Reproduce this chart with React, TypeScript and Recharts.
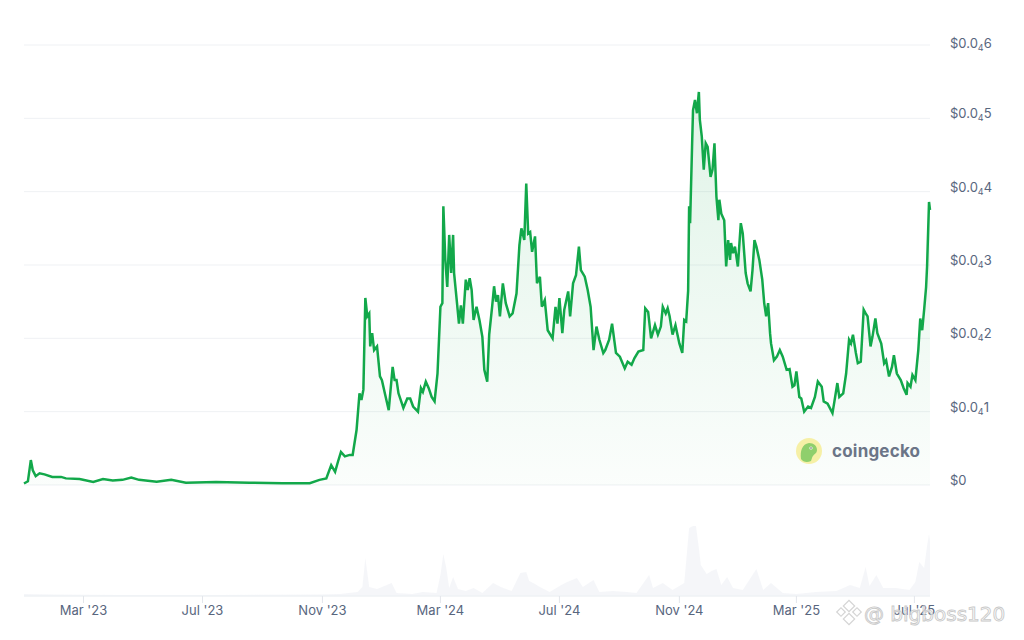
import { ComposedChart, Area, XAxis, YAxis, CartesianGrid } from 'recharts';

// x values: days counted from 1 Jan 2023
const priceDays = [
  -2, 2, 5, 7, 10, 14, 19, 27, 36, 41, 55, 69, 79, 89, 99, 108, 116, 134, 149, 164, 195, 229, 263, 291,
  301, 308, 313, 317, 320, 323, 327, 332, 335, 339, 342, 344, 346, 348, 350, 352, 353, 355, 357, 360,
  363, 365, 368, 372, 376, 378, 380, 382, 387, 391, 394, 397, 402, 405, 407, 410, 413, 416, 419, 422,
  425, 427, 428, 430, 432, 434, 436, 438, 439, 442, 444, 446, 448, 451, 453, 455, 457, 459, 462, 465,
  468, 470, 473, 475, 478, 480, 482, 484, 486, 489, 492, 496, 499, 503, 506, 508, 511, 513, 515, 517,
  519, 522, 524, 527, 529, 532, 535, 540, 543, 545, 547, 550, 552, 556, 558, 561, 564, 567, 569, 573,
  576, 579, 582, 585, 588, 592, 594, 598, 601, 605, 609, 614, 617, 621, 624, 628, 633, 635, 638, 641,
  645, 648, 651, 653, 656, 658, 660, 663, 666, 670, 673, 675, 677, 679, 680, 681, 683, 684, 686, 688,
  690, 691, 693, 695, 697, 699, 702, 704, 706, 708, 710, 711, 713, 716, 718, 720, 722, 723, 725, 727,
  730, 733, 735, 738, 740, 743, 745, 747, 749, 752, 755, 757, 759, 761, 763, 764, 767, 770, 773, 776,
  780, 783, 786, 788, 790, 793, 795, 798, 802, 805, 809, 812, 816, 818, 822, 827, 829, 832, 834, 838,
  841, 844, 846, 848, 851, 853, 856, 859, 861, 863, 866, 868, 871, 873, 877, 880, 882, 885, 888, 890,
  893, 897, 900, 903, 904, 907, 909, 912, 915, 917, 919, 921, 923, 924, 926, 927,
];

// price in units of $0.00001
const priceE5 = [
  0.02, 0.05, 0.34, 0.2, 0.12, 0.16, 0.145, 0.11, 0.11, 0.09, 0.08, 0.04, 0.08, 0.06, 0.07, 0.1, 0.07, 0.045, 0.07, 0.03, 0.04, 0.03, 0.025, 0.025,
  0.07, 0.09, 0.27, 0.18, 0.32, 0.45, 0.39, 0.41, 0.41, 0.75, 1.25, 1.16, 1.3, 2.55, 2.3, 2.34, 1.89, 2.07, 1.84, 1.89,
  1.48, 1.43, 1.25, 1.02, 1.61, 1.43, 1.43, 1.25, 1.05, 1.18, 1.18, 1.07, 1.0, 1.32, 1.27, 1.41, 1.32, 1.2, 1.14, 1.52,
  2.43, 2.48, 3.8, 3.07, 2.7, 3.41, 2.89, 3.41, 2.89, 2.48, 2.2, 2.45, 2.2, 2.8, 2.66, 2.82, 2.66, 2.25, 2.43, 2.25,
  2.02, 1.57, 1.41, 2.05, 2.43, 2.71, 2.5, 2.59, 2.3, 2.75, 2.48, 2.3, 2.34, 2.61, 3.27, 3.5, 3.34, 4.11, 3.43, 3.45,
  3.18, 3.39, 2.75, 2.84, 2.43, 2.52, 2.11, 2.0, 2.43, 2.2, 2.55, 2.07, 2.39, 2.64, 2.3, 2.75, 2.86, 3.25, 2.93, 2.84,
  2.66, 2.43, 1.84, 2.16, 1.98, 1.8, 1.84, 1.98, 2.2, 1.8, 1.75, 1.59, 1.68, 1.64, 1.73, 1.82, 1.84, 2.41, 2.36, 2.0,
  2.18, 2.05, 2.16, 2.43, 2.34, 2.41, 2.3, 2.05, 2.18, 1.93, 1.8, 2.25, 2.23, 2.65, 3.8, 3.57, 4.61, 5.11, 5.25, 5.07,
  5.36, 4.98, 4.75, 4.3, 4.66, 4.61, 4.2, 4.3, 4.66, 3.93, 3.61, 3.89, 3.7, 3.61, 2.98, 3.34, 3.07, 3.3, 3.16, 3.25,
  2.98, 3.57, 3.43, 2.89, 2.75, 2.64, 2.93, 3.34, 3.25, 3.07, 2.8, 2.48, 2.3, 2.48, 2.07, 1.93, 1.7, 1.75, 1.84, 1.75,
  1.57, 1.58, 1.34, 1.36, 1.55, 1.2, 1.18, 1.0, 1.07, 1.05, 1.2, 1.41, 1.34, 1.14, 1.11, 0.98, 1.14, 1.39, 1.2, 1.25,
  1.52, 1.98, 1.93, 2.05, 1.8, 1.66, 1.68, 2.39, 2.34, 2.3, 1.89, 2.02, 2.27, 2.07, 1.93, 1.66, 1.7, 1.48, 1.61, 1.77,
  1.52, 1.43, 1.32, 1.23, 1.39, 1.34, 1.5, 1.43, 1.84, 2.27, 2.11, 2.39, 2.7, 2.98, 3.86, 3.75,
];

const volumeDays = [
  -2, 30, 100, 200, 300, 322, 340, 345, 348, 352, 360, 375, 380, 396, 407, 421, 425, 428, 431, 434,
  438, 443, 451, 459, 468, 479, 487, 498, 507, 513, 516, 522, 527, 537, 549, 555, 565, 571, 582, 588,
  602, 616, 626, 639, 643, 653, 663, 675, 680, 684, 687, 690, 692, 698, 703, 708, 713, 719, 725, 735,
  749, 756, 764, 776, 790, 810, 831, 845, 855, 861, 865, 872, 879, 892, 906, 912, 916, 921, 924, 926, 927,
];

// relative traded volume
const volume = [
  2, 1.5, 1, 1, 1.5, 2, 4, 9, 38, 9, 7, 13, 3, 2, 4, 3, 21, 42, 28, 8,
  19, 7, 5, 8, 3, 13, 9, 5, 23, 24, 15, 12, 9, 4, 11, 14, 18, 9, 16, 4,
  5, 4, 3, 21, 8, 13, 6, 13, 68, 70, 70, 48, 31, 22, 25, 27, 11, 19, 8, 6,
  27, 6, 13, 3, 2, 4, 5, 11, 8, 29, 10, 21, 8, 8, 6, 14, 34, 28, 50, 62, 55,
];

const tickDays = [59, 181, 304, 425, 547, 670, 790, 911];
const tickLabels = ["Mar '23", "Jul '23", "Nov '23", "Mar '24", "Jul '24", "Nov '24", "Mar '25", "Jul '25"];
const priceTicks = [0, 1, 2, 3, 4, 5, 6];

const GREEN = '#12a84a';
const GREY = '#58667e';

const byDay: Record<number, any> = {};
priceDays.forEach((d, i) => {
  byDay[d] = { day: d, price: priceE5[i] };
});
volumeDays.forEach((d, i) => {
  byDay[d] = { ...(byDay[d] || { day: d }), volume: volume[i] };
});
const rows = Object.values(byDay).sort((a: any, b: any) => a.day - b.day);

const PriceTick = ({ x, y, payload }: any) => {
  const v = payload.value;
  return (
    <text x={x} y={y} dy={v === 6 ? 3 : 0} fill={GREY} fontSize={13} fontFamily="Inter, sans-serif" textAnchor="start">
      {v === 0 ? (
        '$0'
      ) : (
        <>
          <tspan>$0.0</tspan>
          <tspan fontSize={9} dy={3}>4</tspan>
          <tspan dy={-3}>{v}</tspan>
        </>
      )}
    </text>
  );
};

const App = () => {
  return (
    <div style={{ position: 'absolute', top: 0, left: 0, width: 1024, height: 640, background: '#fff', fontFamily: 'Inter, sans-serif' }}>
      <ComposedChart width={1024} height={640} data={rows} margin={{ top: 45, right: 0, left: 24, bottom: 14 }}>
        <defs>
          <linearGradient id="priceFill" x1="0" y1="0" x2="0" y2="1">
            <stop offset="0%" stopColor={GREEN} stopOpacity={0.22} />
            <stop offset="100%" stopColor={GREEN} stopOpacity={0.03} />
          </linearGradient>
        </defs>
        <CartesianGrid yAxisId="price" vertical={false} stroke="#eff1f4" />
        <XAxis
          dataKey="day"
          type="number"
          domain={[-2, 927]}
          ticks={tickDays}
          tickFormatter={(d) => tickLabels[tickDays.indexOf(d)]}
          height={30}
          axisLine={{ stroke: '#eff2f5' }}
          tickLine={{ stroke: '#e3e6eb' }}
          tickSize={7}
          tickMargin={3}
          tick={{ fill: GREY, fontSize: 13, fontFamily: 'Inter, sans-serif' }}
          interval={0}
        />
        <YAxis
          yAxisId="price"
          orientation="right"
          width={94}
          domain={[-1.514, 6]}
          ticks={priceTicks}
          axisLine={false}
          tickLine={false}
          tickSize={0}
          tickMargin={20}
          tick={<PriceTick />}
          allowDataOverflow
        />
        <YAxis yAxisId="vol" hide domain={[0, 551]} allowDataOverflow />
        <Area
          yAxisId="vol"
          dataKey="volume"
          type="linear"
          stroke="none"
          fill="#eef0f5"
          connectNulls
          isAnimationActive={false}
        />
        <Area
          yAxisId="price"
          dataKey="price"
          type="linear"
          baseValue={0}
          stroke={GREEN}
          strokeWidth={2.5}
          fill="url(#priceFill)"
          connectNulls
          dot={false}
          activeDot={false}
          isAnimationActive={false}
        />
      </ComposedChart>

      {/* coingecko mark */}
      <div style={{ position: 'absolute', left: 795, top: 437, display: 'flex', alignItems: 'center' }}>
        <svg width={28} height={28} viewBox="0 0 28 28">
          <circle cx={14} cy={14} r={13} fill="#f6f0a6" />
          <path d="M6 22 C5 14 7 7 14 6 C19 6 22 9 22 13 C22 17 18 17 17 21 L16 24 C12 26 8 25 6 22 Z" fill="#8fcf6c" />
          <circle cx={16} cy={11} r={1.6} fill="#fff" />
          <circle cx={16} cy={11} r={0.8} fill="#555" />
        </svg>
        <span style={{ marginLeft: 9, fontSize: 17, fontWeight: 700, color: '#6b7587', letterSpacing: 0.2 }}>coingecko</span>
      </div>

      {/* watermark */}
      <svg style={{ position: 'absolute', left: 830, top: 596 }} width={194} height={40}>
        <g fill="none" stroke="#d0d0d0" strokeWidth={1.2} opacity={0.9}>
          <rect x={15} y={6} width={8} height={8} transform="rotate(45 19 10)" />
          <rect x={8} y={13} width={6} height={6} transform="rotate(45 11 16)" />
          <rect x={24} y={13} width={6} height={6} transform="rotate(45 27 16)" />
          <rect x={15} y={19} width={8} height={8} transform="rotate(45 19 23)" />
        </g>
        <text x={34} y={25} fontSize={20} fontFamily="'DejaVu Sans', sans-serif" fill="rgba(255,255,255,0.6)" stroke="#c9c9c9" strokeWidth={0.9}>
          @ bigboss120
        </text>
      </svg>
    </div>
  );
};

export default App;
